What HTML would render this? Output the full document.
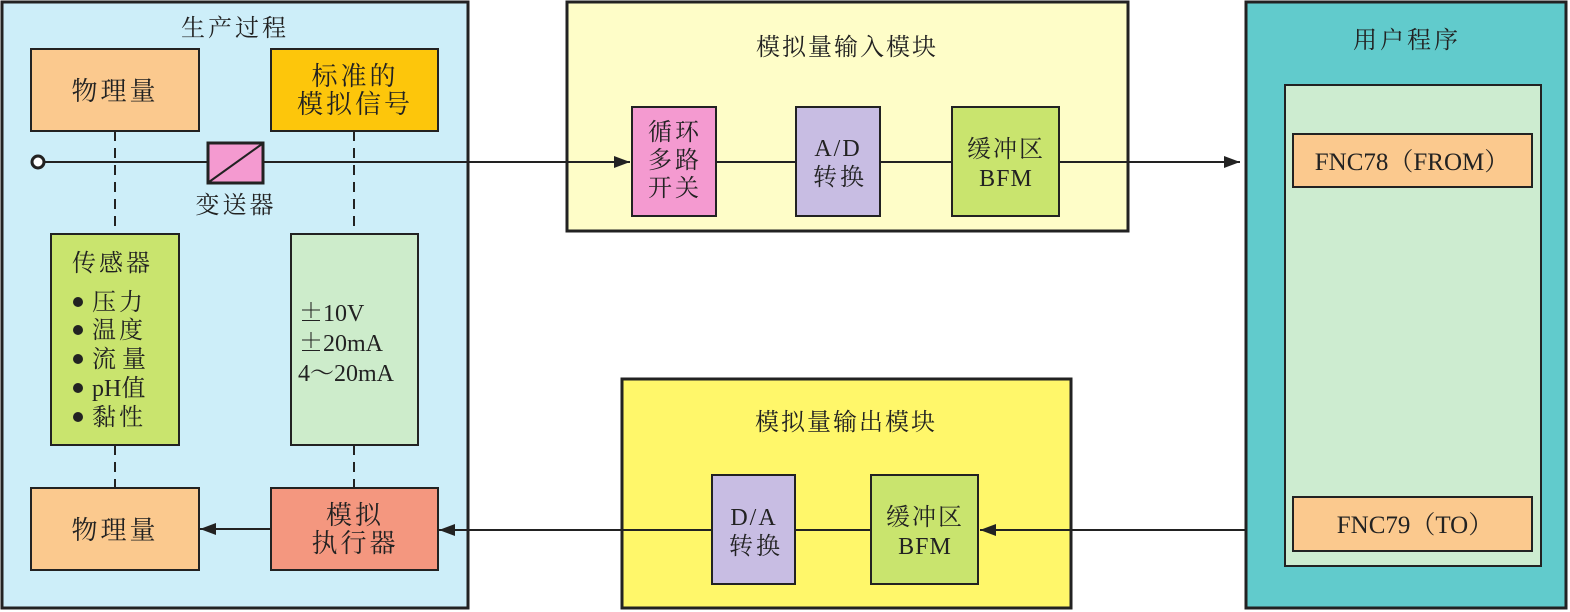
<!DOCTYPE html>
<html><head><meta charset="utf-8"><style>
html,body{margin:0;padding:0;background:#fff;}
svg{display:block;}
text{font-family:"Liberation Serif","Noto Serif CJK SC","Noto Sans CJK SC",serif;fill:#222;}
.cj{font-family:"Noto Serif CJK SC","Noto Sans CJK SC",serif;}
</style></head><body>
<svg width="1570" height="612" viewBox="0 0 1570 612" xmlns="http://www.w3.org/2000/svg">
<defs><marker id="ah" markerWidth="16" markerHeight="12" refX="16" refY="6" orient="auto" markerUnits="userSpaceOnUse"><path d="M0,0 L16,6 L0,12 Z" fill="#222"/></marker></defs>
<!-- left panel -->
<rect x="2" y="2" width="466" height="606" fill="#cdeef9" stroke="#222" stroke-width="3"/>
<text x="235" y="36" font-size="24" text-anchor="middle" letter-spacing="3">生产过程</text>
<g stroke="#222" stroke-width="2" stroke-dasharray="10,7">
<line x1="115" y1="131" x2="115" y2="234"/><line x1="354" y1="131" x2="354" y2="234"/>
<line x1="115" y1="445" x2="115" y2="488"/><line x1="354" y1="445" x2="354" y2="488"/>
</g>
<rect x="31" y="49" width="168" height="82" fill="#fbc98e" stroke="#222" stroke-width="2"/>
<text x="115" y="100" font-size="26" text-anchor="middle" letter-spacing="3">物理量</text>
<rect x="271" y="49" width="167" height="82" fill="#fdc60b" stroke="#222" stroke-width="2"/>
<text x="355" y="85" font-size="26" text-anchor="middle" letter-spacing="3">标准的</text>
<text x="355" y="113" font-size="26" text-anchor="middle" letter-spacing="3">模拟信号</text>
<rect x="51" y="234" width="128" height="211" fill="#c9e46e" stroke="#222" stroke-width="2"/>
<text x="72" y="271" font-size="24" letter-spacing="3">传感器</text>
<g font-size="24"><circle cx="78" cy="302" r="5" fill="#222"/><text x="92" y="310" letter-spacing="3">压力</text>
<circle cx="78" cy="330" r="5" fill="#222"/><text x="92" y="338" letter-spacing="3">温度</text>
<circle cx="78" cy="359" r="5" fill="#222"/><text x="92" y="367">流 量</text>
<circle cx="78" cy="388" r="5" fill="#222"/><text x="92" y="396">pH值</text>
<circle cx="78" cy="417" r="5" fill="#222"/><text x="92" y="425" letter-spacing="3">黏性</text></g>
<rect x="291" y="234" width="127" height="211" fill="#cdeccb" stroke="#222" stroke-width="2"/>
<g font-size="24"><text x="299" y="321"><tspan class="cj">±</tspan>10V</text><text x="299" y="351"><tspan class="cj">±</tspan>20mA</text><text x="298" y="381">4～20mA</text></g>
<rect x="31" y="488" width="168" height="82" fill="#fbc98e" stroke="#222" stroke-width="2"/>
<text x="115" y="539" font-size="26" text-anchor="middle" letter-spacing="3">物理量</text>
<rect x="271" y="488" width="167" height="82" fill="#f4977f" stroke="#222" stroke-width="2"/>
<text x="355" y="524" font-size="26" text-anchor="middle" letter-spacing="3">模拟</text>
<text x="355" y="552" font-size="26" text-anchor="middle" letter-spacing="3">执行器</text>
<line x1="271" y1="529" x2="200" y2="529" stroke="#222" stroke-width="2" marker-end="url(#ah)"/>
<!-- input module -->
<rect x="567" y="2" width="561" height="229" fill="#fefdc8" stroke="#222" stroke-width="3"/>
<text x="847" y="55" font-size="24" text-anchor="middle" letter-spacing="2">模拟量输入模块</text>
<!-- signal line -->
<line x1="43" y1="162" x2="630" y2="162" stroke="#222" stroke-width="2" marker-end="url(#ah)"/>
<circle cx="38" cy="162" r="6" fill="#fff" stroke="#222" stroke-width="3"/>
<rect x="208" y="143" width="55" height="40" fill="#f49ad0" stroke="#222" stroke-width="3"/>
<line x1="209" y1="182" x2="262" y2="144" stroke="#222" stroke-width="2"/>
<text x="236" y="213" font-size="24" text-anchor="middle" letter-spacing="3">变送器</text>
<line x1="716" y1="162" x2="951" y2="162" stroke="#222" stroke-width="2"/>
<rect x="632" y="107" width="84" height="109" fill="#f49ad0" stroke="#222" stroke-width="2"/>
<g font-size="24" text-anchor="middle" letter-spacing="3"><text x="675" y="140">循环</text><text x="675" y="168">多路</text><text x="675" y="196">开关</text></g>
<rect x="796" y="107" width="84" height="109" fill="#c8bde3" stroke="#222" stroke-width="2"/>
<g font-size="24" text-anchor="middle"><text x="838" y="156" letter-spacing="2">A/D</text><text x="840" y="185" letter-spacing="3">转换</text></g>
<rect x="952" y="107" width="107" height="109" fill="#c9e46e" stroke="#222" stroke-width="2"/>
<g font-size="24" text-anchor="middle"><text x="1006" y="157" letter-spacing="2">缓冲区</text><text x="1006" y="186" letter-spacing="1">BFM</text></g>
<line x1="1059" y1="162" x2="1240" y2="162" stroke="#222" stroke-width="2" marker-end="url(#ah)"/>
<!-- user program -->
<rect x="1246" y="2" width="320" height="606" fill="#61cbcc" stroke="#222" stroke-width="3"/>
<text x="1407" y="48" font-size="24" text-anchor="middle" letter-spacing="3">用户程序</text>
<rect x="1285" y="85" width="256" height="481" fill="#cdecd0" stroke="#222" stroke-width="2"/>
<rect x="1293" y="134" width="239" height="53" fill="#fbc98e" stroke="#222" stroke-width="2"/>
<text x="1412" y="170" font-size="25" text-anchor="middle">FNC78（FROM）</text>
<rect x="1293" y="497" width="239" height="54" fill="#fbc98e" stroke="#222" stroke-width="2"/>
<text x="1415" y="533" font-size="25" text-anchor="middle">FNC79（TO）</text>
<!-- output module -->
<rect x="622" y="379" width="449" height="229" fill="#fff76a" stroke="#222" stroke-width="3"/>
<text x="846" y="430" font-size="24" text-anchor="middle" letter-spacing="2">模拟量输出模块</text>
<line x1="1246" y1="530" x2="980" y2="530" stroke="#222" stroke-width="2" marker-end="url(#ah)"/>
<line x1="871" y1="530" x2="795" y2="530" stroke="#222" stroke-width="2"/>
<line x1="712" y1="530" x2="439" y2="530" stroke="#222" stroke-width="2" marker-end="url(#ah)"/>
<rect x="712" y="475" width="83" height="109" fill="#c8bde3" stroke="#222" stroke-width="2"/>
<g font-size="24" text-anchor="middle"><text x="754" y="525" letter-spacing="2">D/A</text><text x="756" y="554" letter-spacing="3">转换</text></g>
<rect x="871" y="475" width="107" height="109" fill="#c9e46e" stroke="#222" stroke-width="2"/>
<g font-size="24" text-anchor="middle"><text x="925" y="525" letter-spacing="2">缓冲区</text><text x="925" y="554" letter-spacing="1">BFM</text></g>
</svg>
</body></html>
